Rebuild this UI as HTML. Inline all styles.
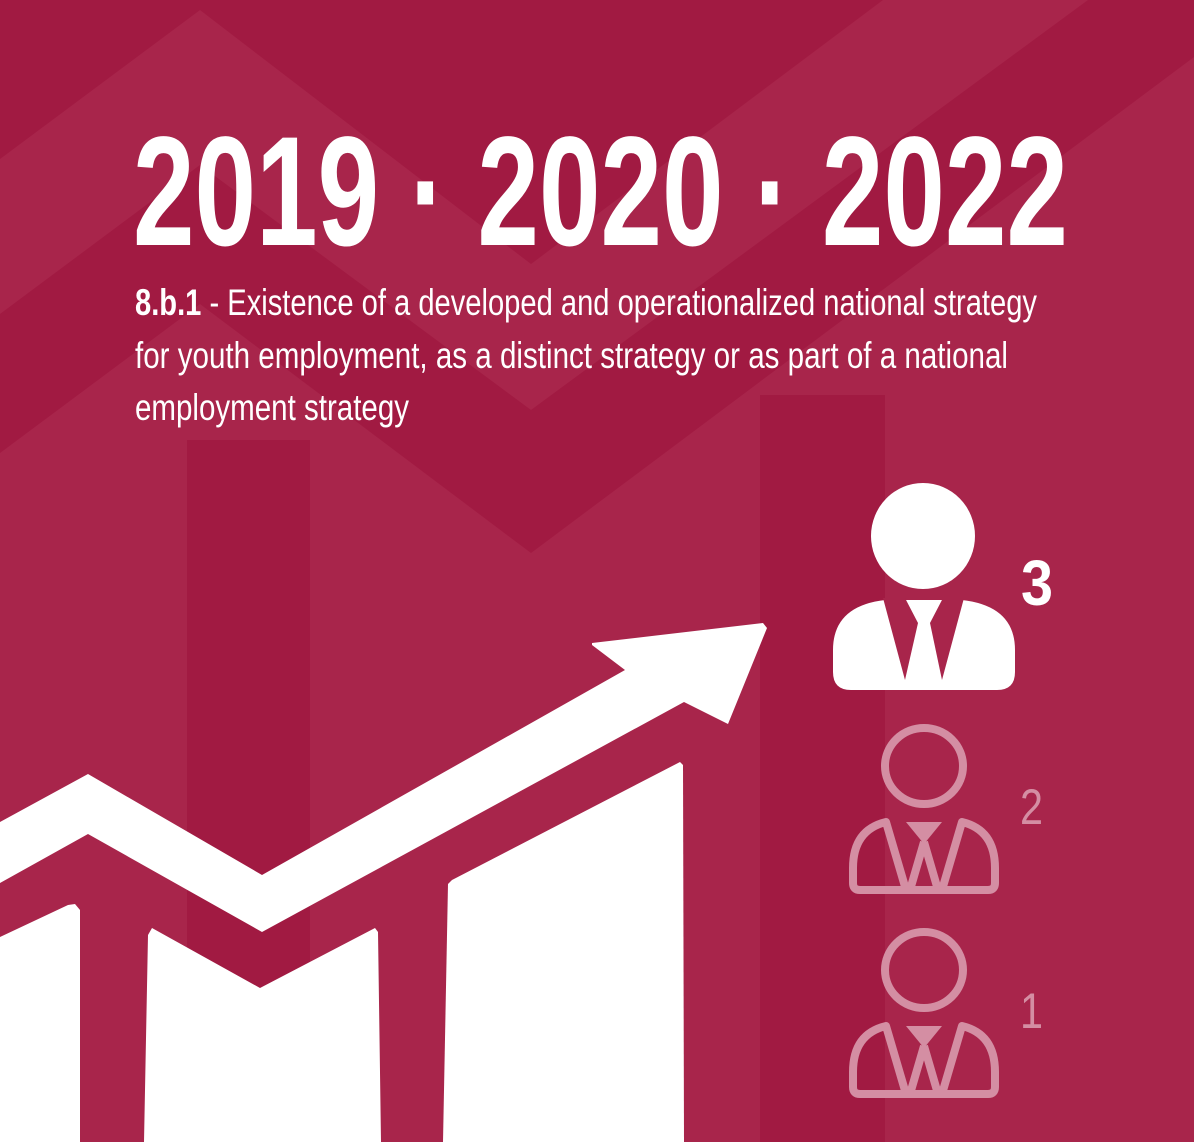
<!DOCTYPE html>
<html>
<head>
<meta charset="utf-8">
<style>
html,body{margin:0;padding:0;background:#A11A42;}
svg{display:block;}
text{font-family:"Liberation Sans",sans-serif;}
</style>
</head>
<body>
<svg id="chart" width="1194" height="1142" viewBox="0 0 1194 1142" xmlns="http://www.w3.org/2000/svg">
  <g>
    <rect x="0" y="0" width="1194" height="1142" fill="#A11A42"/>
    <polygon fill="#A8254B"
      points="0,159 200,10 531,264 883,0 1088,0 531,410 200,165 0,314"/>
    <polygon fill="#A8254B"
      points="0,453 200,304 531,553 1194,57 1194,1142 0,1142"/>
    <rect x="187" y="440" width="123" height="702" fill="#A11A42"/>
    <rect x="760" y="395" width="125" height="747" fill="#A11A42"/>
  </g>

  <text x="133" y="245" font-size="156" font-weight="bold" fill="#fff" textLength="935" lengthAdjust="spacingAndGlyphs">2019 · 2020 · 2022</text>

  <g fill="#fff" font-size="37">
    <text x="135" y="315" textLength="902" lengthAdjust="spacingAndGlyphs"><tspan font-weight="bold">8.b.1</tspan> - Existence of a developed and operationalized national strategy</text>
    <text x="135" y="368" textLength="873" lengthAdjust="spacingAndGlyphs">for youth employment, as a distinct strategy or as part of a national</text>
    <text x="135" y="420" textLength="274" lengthAdjust="spacingAndGlyphs">employment strategy</text>
  </g>

  <g fill="#fff">
    <polygon points="0,937 68,905 75,904 80,910 80,1142 0,1142"/>
    <polygon points="144,1142 148,935 152,928 260,988 375,928 378,932 381,1142"/>
    <polygon points="443,1142 448,884 452,880 680,762 683,765 684,1142"/>
    <polygon
      points="0,822 88,774 262,875 625,670 592,645 592,643 763,623 767,628 728,724 684,702 262,932 88,834 0,883"/>
  </g>

  <g id="levels"></g>
</svg>
<script>
const levels = [3, 2, 1];
const highlighted = [true, false, false];
const iconTops = [483, 724, 928];

const NS = "http://www.w3.org/2000/svg";
const root = document.getElementById("levels");
function mk(tag, attrs, parent) {
  const e = document.createElementNS(NS, tag);
  for (const k in attrs) e.setAttribute(k, attrs[k]);
  parent.appendChild(e);
  return e;
}
levels.forEach((lv, i) => {
  const top = iconTops[i];
  const g = mk("g", {}, root);
  
  
  if (highlighted[i]) {
    const cx = 923;
    const head = mk("ellipse", {cx: cx, cy: top + 53, rx: 52, ry: 53, fill: "#fff"}, g);
    
    
    const body = mk("path", {fill: "#fff",
      d: "M833,690 L833,650 Q833,606 885,600 L962,600 Q1015,606 1015,650 L1015,672 Q1015,690 997,690 L851,690 Q833,690 833,672 Z"}, g);
    
    
    mk("polygon", {fill: "#A8254B", points: "883,598 905,598 918,623 905,680"}, g);
    mk("polygon", {fill: "#A8254B", points: "964,598 943,598 930,623 942,680"}, g);
    const t = mk("text", {x: 1021, y: 605, "font-size": 64, "font-weight": "bold", fill: "#fff", textLength: 32, lengthAdjust: "spacingAndGlyphs"}, g);
    t.textContent = String(lv);
    
    
  } else {
    const c = "#D48EA3";
    const hy = top + 42;
    const head = mk("ellipse", {cx: 924, cy: hy, rx: 39, ry: 38, fill: "none", stroke: c, "stroke-width": 8}, g);
    
    
    const by = top + 98, bb = top + 166;
    const body = mk("path", {fill: "none", stroke: c, "stroke-width": 8, "stroke-linejoin": "round",
      d: `M886,${by} L906,${bb} L860,${bb} Q853,${bb} 853,${bb-7} L853,${bb-22} Q853,${by+8} 886,${by} Z
          M962,${by} L942,${bb} L988,${bb} Q995,${bb} 995,${bb-7} L995,${bb-22} Q995,${by+8} 962,${by} Z
          M924,${by+20} L910,${bb} M924,${by+20} L938,${bb} M906,${bb} L942,${bb}`}, g);
    
    
    mk("polygon", {fill: c, points: `906,${by} 942,${by} 924,${by+22}`}, g);
    const t = mk("text", {x: 1020, y: top + 100, "font-size": 50, fill: c, textLength: 23, lengthAdjust: "spacingAndGlyphs"}, g);
    t.textContent = String(lv);
    
    
  }
});
</script>
</body>
</html>
